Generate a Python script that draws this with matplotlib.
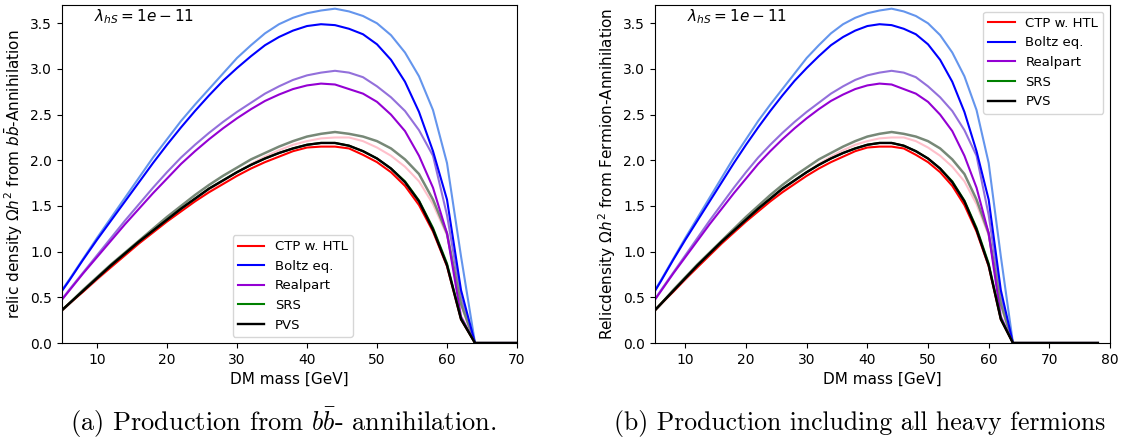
import matplotlib
matplotlib.use("Agg")
import matplotlib.pyplot as plt

# DM mass grid [GeV]
mass = [4, 6, 8, 10, 12, 14, 16, 18, 20, 22, 24, 26, 28, 30, 32, 34, 36, 38, 40,
        42, 44, 46, 48, 50, 52, 54, 56, 58, 60, 62, 64, 66, 68, 70, 72, 74, 76, 78]

# relic density curves (main)
ctp_htl = [0.29, 0.43, 0.56, 0.70, 0.83, 0.96, 1.09, 1.21, 1.33, 1.44, 1.55, 1.65, 1.74, 1.83,
           1.91, 1.98, 2.04, 2.10, 2.14, 2.15, 2.15, 2.13, 2.06, 1.98, 1.87, 1.72, 1.51, 1.22,
           0.84, 0.26, 0.0, 0.0, 0.0, 0.0, 0.0, 0.0, 0.0, 0.0]
boltz = [0.46, 0.68, 0.91, 1.13, 1.34, 1.55, 1.76, 1.97, 2.17, 2.36, 2.54, 2.71, 2.87, 3.01,
         3.14, 3.26, 3.35, 3.42, 3.47, 3.49, 3.48, 3.44, 3.38, 3.27, 3.10, 2.86, 2.53, 2.10,
         1.57, 0.58, 0.0, 0.0, 0.0, 0.0, 0.0, 0.0, 0.0, 0.0]
realpart = [0.38, 0.57, 0.76, 0.94, 1.12, 1.30, 1.47, 1.64, 1.80, 1.96, 2.10, 2.23, 2.35, 2.46,
            2.56, 2.65, 2.72, 2.78, 2.82, 2.84, 2.83, 2.78, 2.73, 2.64, 2.50, 2.32, 2.05, 1.70,
            1.20, 0.29, 0.0, 0.0, 0.0, 0.0, 0.0, 0.0, 0.0, 0.0]
srs = [0.29, 0.43, 0.57, 0.71, 0.85, 0.98, 1.11, 1.23, 1.35, 1.47, 1.58, 1.69, 1.78, 1.87,
       1.95, 2.02, 2.08, 2.13, 2.17, 2.19, 2.19, 2.16, 2.10, 2.02, 1.91, 1.77, 1.56, 1.26,
       0.87, 0.27, 0.0, 0.0, 0.0, 0.0, 0.0, 0.0, 0.0, 0.0]
pvs = [0.29, 0.43, 0.57, 0.71, 0.85, 0.98, 1.11, 1.23, 1.35, 1.47, 1.58, 1.69, 1.78, 1.87,
       1.95, 2.02, 2.08, 2.13, 2.17, 2.19, 2.19, 2.16, 2.10, 2.02, 1.91, 1.76, 1.55, 1.24,
       0.85, 0.26, 0.0, 0.0, 0.0, 0.0, 0.0, 0.0, 0.0, 0.0]

# lighter companion curves
ctp_htl_lt = [0.28, 0.42, 0.56, 0.69, 0.83, 0.96, 1.09, 1.21, 1.33, 1.45, 1.56, 1.67, 1.77, 1.87,
              1.96, 2.04, 2.11, 2.17, 2.21, 2.24, 2.25, 2.25, 2.21, 2.14, 2.05, 1.93, 1.77, 1.52,
              1.18, 0.42, 0.0, 0.0, 0.0, 0.0, 0.0, 0.0, 0.0, 0.0]
boltz_lt = [0.47, 0.69, 0.92, 1.15, 1.37, 1.59, 1.81, 2.03, 2.23, 2.43, 2.61, 2.78, 2.95, 3.12,
            3.26, 3.39, 3.49, 3.56, 3.61, 3.64, 3.66, 3.63, 3.58, 3.50, 3.37, 3.18, 2.92, 2.55,
            1.97, 0.95, 0.0, 0.0, 0.0, 0.0, 0.0, 0.0, 0.0, 0.0]
realpart_lt = [0.38, 0.58, 0.77, 0.96, 1.15, 1.34, 1.52, 1.70, 1.87, 2.03, 2.17, 2.30, 2.42, 2.53,
               2.63, 2.73, 2.81, 2.88, 2.93, 2.96, 2.98, 2.96, 2.91, 2.81, 2.69, 2.54, 2.33, 2.05,
               1.40, 0.50, 0.0, 0.0, 0.0, 0.0, 0.0, 0.0, 0.0, 0.0]
srs_pvs_lt = [0.29, 0.43, 0.58, 0.72, 0.86, 0.99, 1.12, 1.25, 1.38, 1.50, 1.62, 1.73, 1.83, 1.92,
              2.01, 2.08, 2.15, 2.21, 2.26, 2.29, 2.31, 2.29, 2.26, 2.21, 2.13, 2.01, 1.85, 1.57,
              1.20, 0.43, 0.0, 0.0, 0.0, 0.0, 0.0, 0.0, 0.0, 0.0]

fig = plt.figure(figsize=(11.21, 4.41), dpi=100)
ax1 = fig.add_axes([0.0553, 0.2222, 0.4059, 0.7664])
ax2 = fig.add_axes([0.5843, 0.2222, 0.4059, 0.7664])


def draw_panel(ax):
    # light curves first, then the labelled ones on top
    ax.plot(mass, boltz_lt, color='cornflowerblue', lw=1.5)
    ax.plot(mass, realpart_lt, color='mediumpurple', lw=1.5)
    ax.plot(mass, ctp_htl_lt, color='pink', lw=1.5)
    ax.plot(mass, srs_pvs_lt, color='#778877', lw=1.8)
    ax.plot(mass, ctp_htl, color='red', lw=1.5, label='CTP w. HTL')
    ax.plot(mass, boltz, color='blue', lw=1.5, label='Boltz eq.')
    ax.plot(mass, realpart, color='darkviolet', lw=1.5, label='Realpart')
    ax.plot(mass, srs, color='green', lw=1.5, label='SRS')
    ax.plot(mass, pvs, color='black', lw=1.7, label='PVS')
    ax.set_ylim(0, 3.7)
    ax.set_yticks([0.0, 0.5, 1.0, 1.5, 2.0, 2.5, 3.0, 3.5])
    ax.tick_params(labelsize=10)
    ax.set_xlabel('DM mass [GeV]', fontsize=11)
    ax.text(0.07, 0.965, r'$\lambda_{hS} = 1e-11$', transform=ax.transAxes,
            fontsize=11, va='center', ha='left')


draw_panel(ax1)
ax1.set_xlim(5, 70)
ax1.set_xticks([10, 20, 30, 40, 50, 60, 70])
ax1.set_ylabel(r'relic density $\Omega h^2$ from $b\bar{b}$-Annihilation', fontsize=11)
ax1.legend(loc='lower left', bbox_to_anchor=(0.375, 0.018), borderaxespad=0, fontsize=9.5)

draw_panel(ax2)
ax2.set_xlim(5, 80)
ax2.set_xticks([10, 20, 30, 40, 50, 60, 70, 80])
ax2.set_ylabel(r'Relicdensity $\Omega h^2$ from Fermion-Annihilation', fontsize=11)
ax2.legend(loc='upper right', fontsize=9.5)

# sub-figure captions
fig.text(0.253, 0.04, r'(a) Production from $b\bar{b}$- annihilation.', ha='center', va='center',
         fontsize=19, family='cmr10', math_fontfamily='cm')
fig.text(0.548, 0.04, '(b) Production including all heavy fermions', ha='left', va='center',
         fontsize=18.5, family='cmr10', math_fontfamily='cm')

fig.savefig('out.png', dpi=100)
